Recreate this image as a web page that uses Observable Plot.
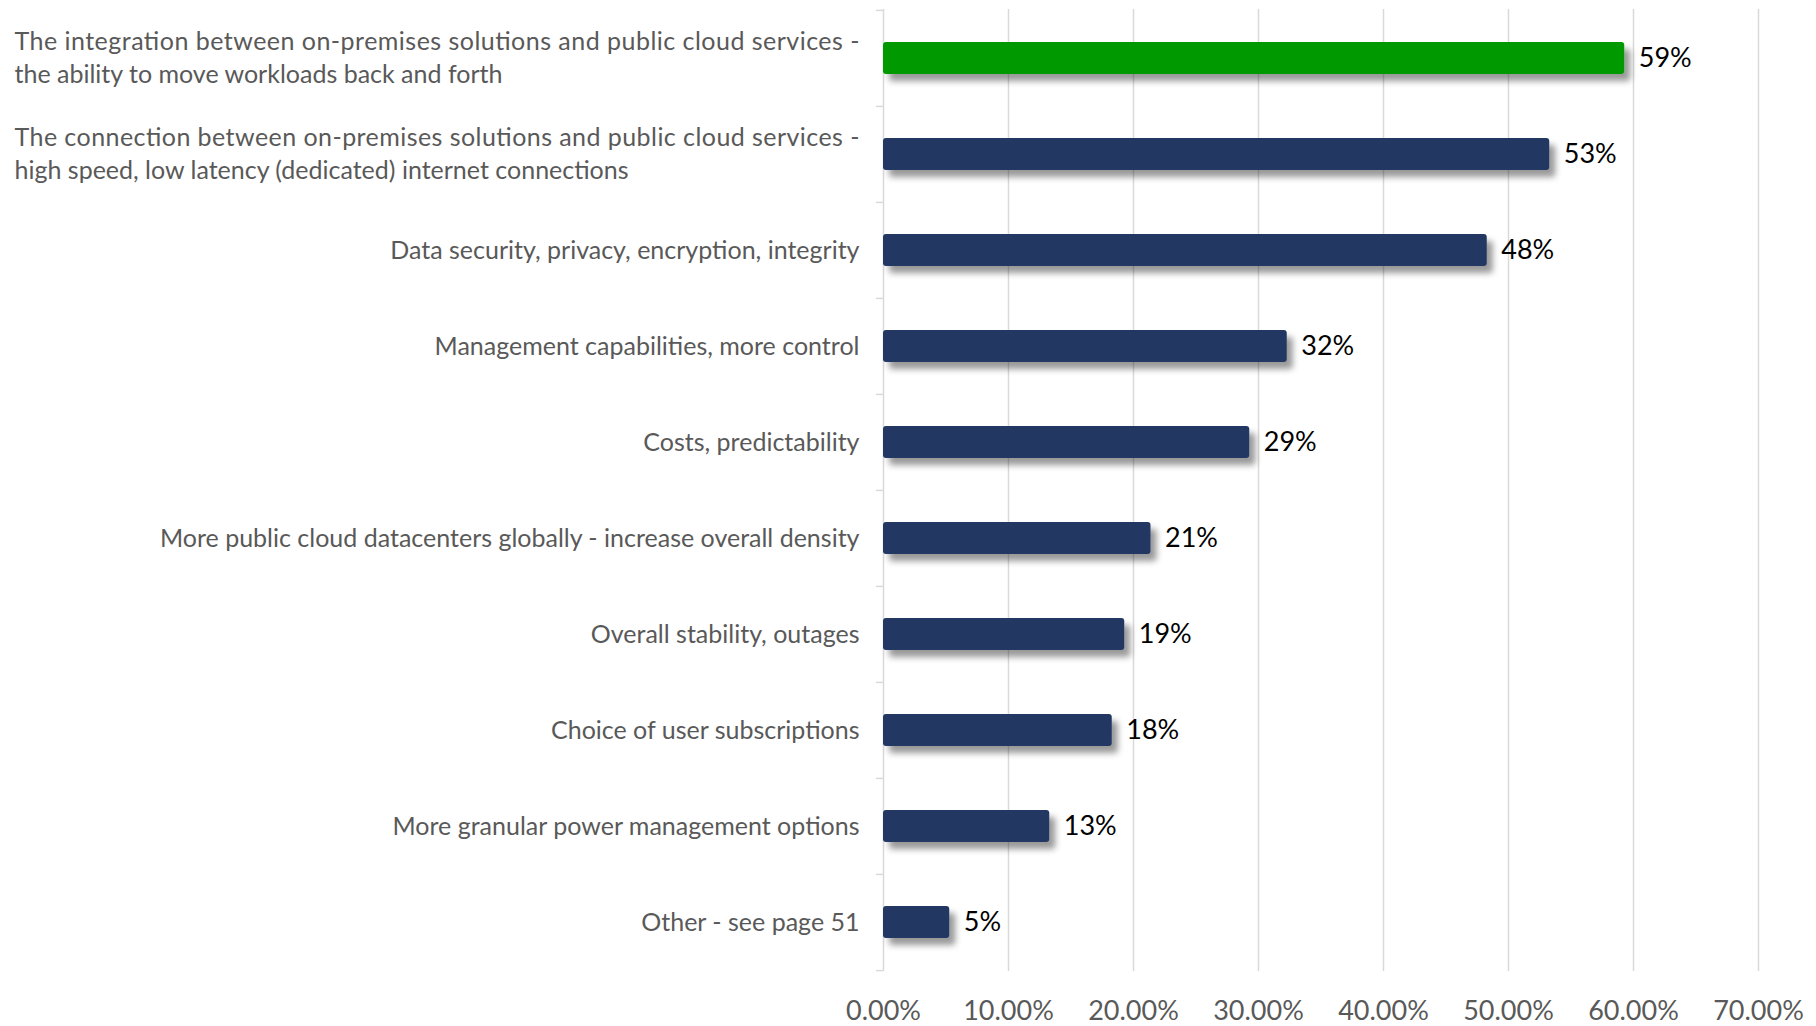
<!DOCTYPE html>
<html>
<head>
<meta charset="utf-8">
<script src="https://cdn.jsdelivr.net/npm/d3@7"></script>
<script src="https://cdn.jsdelivr.net/npm/@observablehq/plot@0.6"></script>
<style>
  html, body { margin: 0; padding: 0; background: #fff; }
  #chart { width: 1816px; height: 1026px; }
</style>
</head>
<body>
<div id="chart"></div>
<script>
const categories = [
  "The integration between on-premises solutions and public cloud services -\nthe ability to move workloads back and forth",
  "The connection between on-premises solutions and public cloud services -\nhigh speed, low latency (dedicated) internet connections",
  "Data security, privacy, encryption, integrity",
  "Management capabilities, more control",
  "Costs, predictability",
  "More public cloud datacenters globally - increase overall density",
  "Overall stability, outages",
  "Choice of user subscriptions",
  "More granular power management options",
  "Other - see page 51"
];
const values = [59.3, 53.3, 48.3, 32.3, 29.3, 21.4, 19.3, 18.3, 13.3, 5.3];
const xTicks = [0, 10, 20, 30, 40, 50, 60, 70];

const data = categories.map((c, i) => ({category: c, value: values[i], rank: i}));
const singles = data.filter(d => !d.category.includes("\n"));
const lineRows = categories.flatMap(c => c.includes("\n")
  ? c.split("\n").map((t, j) => ({category: c, text: t, line: j})) : []);

const W = 1816, H = 1026, mt = 9, mb = 55, ml = 883, mr = 58;
const step = (H - mt - mb) / categories.length;
const GREEN = "#009a00", NAVY = "#203864", GRID = "#d9d9d9", LABEL = "#595959";

const plot = Plot.plot({
  width: W, height: H,
  marginTop: mt, marginBottom: mb, marginLeft: ml, marginRight: mr,
  style: {fontFamily: "Lato", background: "#fff"},
  x: {domain: [0, 70]},
  y: {domain: categories, paddingInner: 0.67, paddingOuter: 0.335, axis: null},
  color: {type: "identity"},
  marks: [
    Plot.ruleX(xTicks.filter(t => t > 0), {stroke: GRID, strokeWidth: 1.5}),
    Plot.ruleX([0], {stroke: GRID, strokeWidth: 1.5}),
    Plot.axisY(categories, {tickSize: 7, tickFormat: () => "", dy: -step / 2, stroke: GRID, strokeWidth: 1.5, label: null}),
    Plot.axisY([categories[categories.length - 1]], {tickSize: 7, tickFormat: () => "", dy: step / 2, stroke: GRID, strokeWidth: 1.5, label: null}),
    Plot.barX(data, {y: "category", x: "value", fill: d => d.rank === 0 ? GREEN : NAVY, rx: 3}),
    Plot.text(data, {y: "category", x: "value", text: d => Math.round(d.value) + "%", textAnchor: "start", dx: 14, fontSize: 27, fill: "#000"}),
    Plot.text(singles, {y: "category", x: 0, text: "category", textAnchor: "end", dx: -24, fontSize: 25, fill: LABEL}),
    Plot.text(lineRows.filter(d => d.line === 0), {y: "category", x: 0, text: "text", textAnchor: "start", dx: 14 - ml, dy: -16.5, fontSize: 25, fill: LABEL}),
    Plot.text(lineRows.filter(d => d.line === 1), {y: "category", x: 0, text: "text", textAnchor: "start", dx: 14 - ml, dy: 16.5, fontSize: 25, fill: LABEL}),
    Plot.axisX(xTicks, {tickFormat: d => d.toFixed(2) + "%", tickSize: 0, tickPadding: 29, fontSize: 27, color: LABEL, label: null})
  ]
});

// drop shadow for bars
const ns = "http://www.w3.org/2000/svg";
const defs = document.createElementNS(ns, "defs");
defs.innerHTML = '<filter id="barShadow" x="-10%" y="-30%" width="130%" height="200%"><feDropShadow dx="6" dy="7" stdDeviation="3" flood-color="#000" flood-opacity="0.4"/></filter>';
plot.insertBefore(defs, plot.firstChild);
plot.querySelectorAll('g[aria-label="bar"]').forEach(g => g.setAttribute("filter", "url(#barShadow)"));

// justify first lines of the two-line labels
const firstLines = new Set(lineRows.filter(d => d.line === 0).map(d => d.text));
plot.querySelectorAll("text").forEach(t => {
  if (firstLines.has(t.textContent)) {
    t.setAttribute("textLength", 845);
    t.setAttribute("lengthAdjust", "spacing");
  }
});

document.getElementById("chart").appendChild(plot);
</script>
</body>
</html>
